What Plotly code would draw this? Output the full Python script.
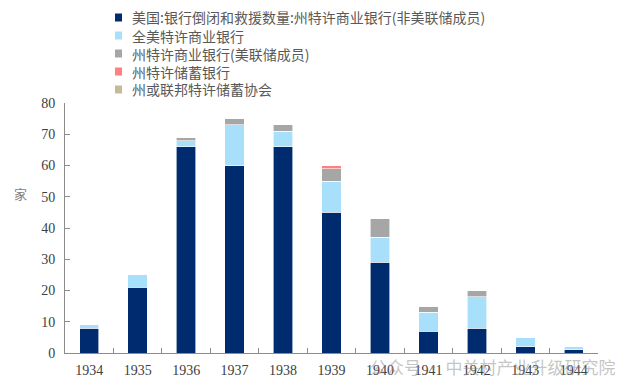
import plotly.graph_objects as go

years = ["1934", "1935", "1936", "1937", "1938", "1939", "1940", "1941", "1942", "1943", "1944"]
state_nonmember = [8, 21, 66, 60, 66, 45, 29, 7, 8, 2, 1]
national = [1, 4, 2, 13, 5, 10, 8, 6, 10, 3, 1]
state_member = [0, 0, 1, 2, 2, 4, 6, 2, 2, 0, 0]
state_savings = [0, 0, 0, 0, 0, 1, 0, 0, 0, 0, 0]
savings_assoc = [0, 0, 0, 0, 0, 0, 0, 0, 0, 0, 0]

names = [
    "美国:银行倒闭和救援数量:州特许商业银行(非美联储成员)",
    "全美特许商业银行",
    "州特许商业银行(美联储成员)",
    "州特许储蓄银行",
    "州或联邦特许储蓄协会",
]
colors = ["#002B6E", "#A8DFFA", "#A6A6A6", "#FF8080", "#C4BC96"]
series = [state_nonmember, national, state_member, state_savings, savings_assoc]

W, H = 640, 392
L, R, T, B = 65, 42, 103, 39
PW, PH = W - L - R, H - T - B


def px(x):
    return (x - L) / PW


def py(y):
    return (H - B - y) / PH


fig = go.Figure()
for n, c, v in zip(names, colors, series):
    fig.add_trace(go.Bar(x=years, y=v, name=n, marker=dict(color=c, line=dict(color="white", width=0.6)),
                         width=0.4, showlegend=False, hoverinfo="skip"))

# manual legend
for i, (n, c) in enumerate(zip(names, colors)):
    yc = 17.5 + i * 18
    fig.add_shape(type="rect", xref="paper", yref="paper", x0=px(115), x1=px(122), y0=py(yc + 4), y1=py(yc - 4),
                  fillcolor=c, line=dict(width=0))
    fig.add_annotation(text=n, xref="paper", yref="paper", x=px(130), y=py(yc), xanchor="left", yanchor="middle",
                       showarrow=False, font=dict(family="Noto Sans CJK SC", size=14, color="#595959"))

fig.update_layout(
    barmode="stack",
    width=W, height=H,
    margin=dict(l=L, r=R, t=T, b=B, autoexpand=False),
    plot_bgcolor="white", paper_bgcolor="white",
    showlegend=False,
    font=dict(family="Liberation Serif", size=13, color="#404040"),
)
fig.update_xaxes(
    type="category", showgrid=False, showline=True, linecolor="#8c8c8c", linewidth=1,
    ticks="inside", tickson="boundaries", ticklen=5, tickcolor="#8c8c8c",
    tickfont=dict(family="Liberation Serif", size=14, color="#404040"), automargin=False,
    ticklabelstandoff=4,
)
fig.update_yaxes(
    range=[0, 80], dtick=10, showgrid=False, showline=True, linecolor="#8c8c8c", linewidth=1,
    ticks="inside", ticklen=5, tickcolor="#8c8c8c", zeroline=False,
    tickfont=dict(family="Liberation Serif", size=14, color="#404040"), automargin=False,
    ticklabelstandoff=6,
)
fig.add_annotation(text="家", xref="paper", yref="paper", x=px(20), y=py(193), xanchor="center",
                   yanchor="middle", textangle=0, showarrow=False,
                   font=dict(family="Noto Sans CJK SC", size=13, color="#7f7f7f"))
fig.add_annotation(text="公众号 · 中关村产业升级研究院", xref="paper", yref="paper", x=px(368), y=py(366),
                   xanchor="left", yanchor="middle", showarrow=False,
                   font=dict(family="Noto Sans CJK SC", size=17, color="rgba(140,140,140,0.5)"))
fig.write_html("out.html", config={"displayModeBar": False},
               post_script="document.body.style.margin='0';document.body.style.padding='0';")
